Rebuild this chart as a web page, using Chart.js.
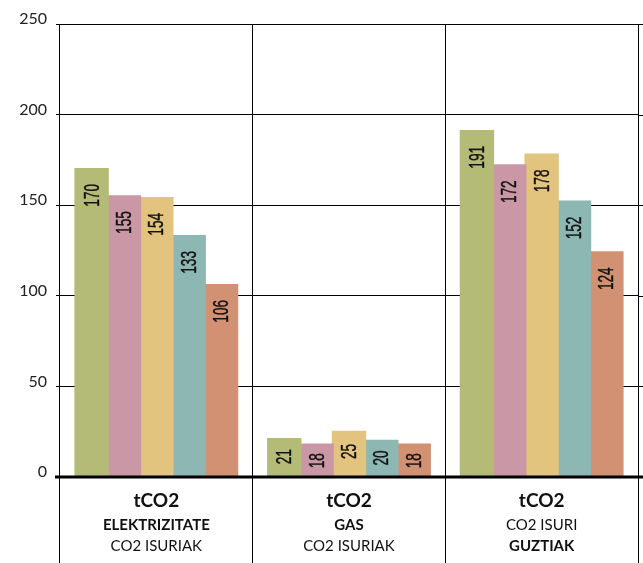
<!DOCTYPE html>
<html>
<head>
<meta charset="utf-8">
<script src="https://cdn.jsdelivr.net/npm/chart.js@4/dist/chart.umd.min.js"></script>
<style>
  html, body { margin: 0; padding: 0; background: #fff; }
  #wrap { width: 643px; height: 563px; }
</style>
</head>
<body>
<div id="wrap"><canvas id="c" width="643" height="563"></canvas></div>
<script>
// ---- data ----
const categories = ['ELEKTRIZITATE', 'GAS', 'GUZTIAK'];
const labelLine1 = ['tCO2', 'tCO2', 'tCO2'];
const labelLine2 = ['ELEKTRIZITATE', 'GAS', 'CO2 ISURI'];
const labelLine3 = ['CO2 ISURIAK', 'CO2 ISURIAK', 'GUZTIAK'];
const line2Bold = [true, true, false];
const line3Bold = [false, false, true];

const seriesNames = ['1', '2', '3', '4', '5'];
const series1 = [170, 21, 191];
const series2 = [155, 18, 172];
const series3 = [154, 25, 178];
const series4 = [133, 20, 152];
const series5 = [106, 18, 124];
const seriesColors = ['#b3bb76', '#c997a5', '#e2c47f', '#8cb7b2', '#d29172'];

const yTicks = [0, 50, 100, 150, 200, 250];

const allSeries = [series1, series2, series3, series4, series5];

const LABEL_FONT = '"Lato", "Open Sans", sans-serif';
const NUM_FONT = '"Liberation Sans", Arial, sans-serif';

const overlayPlugin = {
  id: 'overlay',
  afterDatasetsDraw(chart) {
    const ctx = chart.ctx;
    ctx.save();
    ctx.fillStyle = '#111';
    ctx.strokeStyle = '#111';
    ctx.lineWidth = 0.4;
    ctx.font = '22px ' + NUM_FONT;
    ctx.textAlign = 'right';
    ctx.textBaseline = 'middle';
    chart.data.datasets.forEach((ds, di) => {
      const meta = chart.getDatasetMeta(di);
      meta.data.forEach((bar, i) => {
        const h = bar.base - bar.y;
        const off = Math.min(15, h * 0.27);
        ctx.save();
        ctx.translate(bar.x + 1, bar.y + off);
        ctx.rotate(-Math.PI / 2);
        ctx.scale(0.62, 1);
        ctx.fillText(String(ds.data[i]), 0, 0);
        ctx.strokeText(String(ds.data[i]), 0, 0);
        ctx.restore();
      });
    });
    ctx.restore();
  },
  afterDraw(chart) {
    const ctx = chart.ctx;
    const ys = chart.scales.y;
    const xs = chart.scales.x;
    const area = chart.chartArea;
    ctx.save();
    // extend horizontal gridlines to the right edge
    ctx.strokeStyle = '#000';
    ctx.lineWidth = 1;
    yTicks.forEach(v => {
      if (v === 0) return;
      const y = Math.round(ys.getPixelForValue(v)) + 0.5;
      ctx.beginPath();
      ctx.moveTo(area.right, y);
      ctx.lineTo(chart.width, y);
      ctx.stroke();
    });
    // thick zero line
    const y0 = ys.getPixelForValue(0);
    ctx.lineWidth = 3;
    ctx.beginPath();
    ctx.moveTo(area.left - 5, y0);
    ctx.lineTo(chart.width, y0);
    ctx.stroke();
    // category labels
    ctx.fillStyle = '#111';
    ctx.textAlign = 'center';
    ctx.textBaseline = 'middle';
    categories.forEach((c, i) => {
      const x = xs.getPixelForValue(i);
      ctx.font = 'bold 19px ' + LABEL_FONT;
      ctx.fillText(labelLine1[i], x, y0 + 24);
      ctx.font = (line2Bold[i] ? 'bold 15px ' : '15px ') + LABEL_FONT;
      ctx.fillText(labelLine2[i], x, y0 + 48);
      ctx.font = (line3Bold[i] ? 'bold 15px ' : '15px ') + LABEL_FONT;
      ctx.fillText(labelLine3[i], x, y0 + 69);
    });
    ctx.restore();
  }
};

new Chart(document.getElementById('c'), {
  type: 'bar',
  data: {
    labels: categories,
    datasets: allSeries.map((s, i) => ({
      label: seriesNames[i],
      data: s,
      backgroundColor: seriesColors[i],
      borderWidth: 0,
      inflateAmount: 1,
      categoryPercentage: 0.84,
      barPercentage: 1.0
    }))
  },
  options: {
    responsive: false,
    animation: false,
    devicePixelRatio: 1,
    layout: { padding: { top: 24, right: 5, left: 0, bottom: 0 } },
    plugins: { legend: { display: false }, tooltip: { enabled: false } },
    scales: {
      x: {
        ticks: { display: false },
        grid: { color: '#000', lineWidth: 1, offset: true, drawTicks: true, tickLength: 90 },
        border: { display: false },
        afterFit(scale) { scale.height = 86; }
      },
      y: {
        min: 0,
        max: 250,
        afterBuildTicks(scale) { scale.ticks = yTicks.map(v => ({ value: v })); },
        ticks: {
          color: '#222',
          font: { family: LABEL_FONT, size: 16 },
          padding: 9,
          labelOffset: -5
        },
        grid: { color: '#000', lineWidth: 1, drawTicks: true, tickLength: 4 },
        border: { display: false },
        afterFit(scale) { scale.width = 60; }
      }
    }
  },
  plugins: [overlayPlugin]
});
</script>
</body>
</html>
